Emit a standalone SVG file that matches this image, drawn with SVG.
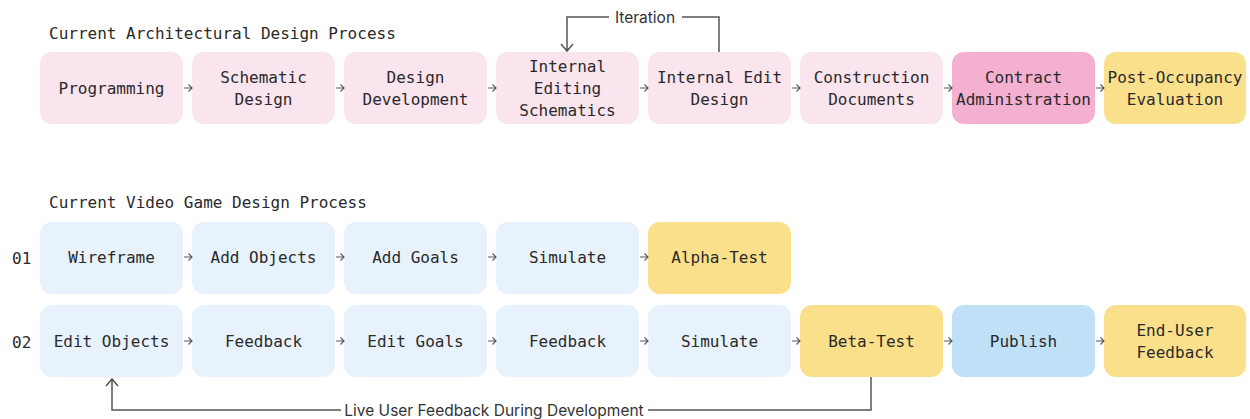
<svg xmlns="http://www.w3.org/2000/svg" width="1250" height="419" viewBox="0 0 1250 419">
<defs>
<style>
.bx{stroke:none}
.pk{fill:#fae4ed}
.mg{fill:#f3b0d0}
.yl{fill:#fae08a}
.lb{fill:#e7f2fc}
.bl{fill:#bfe0f7}
.t{font-family:"DejaVu Sans Mono","Liberation Mono",monospace;font-size:16px;fill:#2a2a2a;text-anchor:middle;dominant-baseline:central}
.h{font-family:"DejaVu Sans Mono","Liberation Mono",monospace;font-size:16px;fill:#2a2a2a;dominant-baseline:central}
.s{font-family:"Inter","Noto Sans",sans-serif;font-size:15.5px;fill:#333;text-anchor:middle;dominant-baseline:central}
.a{fill:none;stroke:#555;stroke-width:1.1}
.c{fill:none;stroke:#555;stroke-width:1.5}
</style>
<path id="ar" class="a" d="M-4,0 H4 M0.5,-3.5 L4,0 L0.5,3.5"/>
</defs>
<text class="h" x="49" y="33">Current Architectural Design Process</text>
<text class="h" x="49" y="202">Current Video Game Design Process</text>
<text class="h" x="12" y="258">01</text>
<text class="h" x="12" y="342">02</text>

<g id="a1"><rect class="bx pk" x="40" y="52" width="143" height="72" rx="12"/><text class="t" x="111.5" y="88">Programming</text></g>
<g id="a2"><rect class="bx pk" x="192" y="52" width="143" height="72" rx="12"/><text class="t" x="263.5" y="77">Schematic</text><text class="t" x="263.5" y="99">Design</text></g>
<g id="a3"><rect class="bx pk" x="344" y="52" width="143" height="72" rx="12"/><text class="t" x="415.5" y="77">Design</text><text class="t" x="415.5" y="99">Development</text></g>
<g id="a4"><rect class="bx pk" x="496" y="52" width="143" height="72" rx="12"/><text class="t" x="567.5" y="66">Internal</text><text class="t" x="567.5" y="88">Editing</text><text class="t" x="567.5" y="110">Schematics</text></g>
<g id="a5"><rect class="bx pk" x="648" y="52" width="143" height="72" rx="12"/><text class="t" x="719.5" y="77">Internal Edit</text><text class="t" x="719.5" y="99">Design</text></g>
<g id="a6"><rect class="bx pk" x="800" y="52" width="143" height="72" rx="12"/><text class="t" x="871.5" y="77">Construction</text><text class="t" x="871.5" y="99">Documents</text></g>
<g id="a7"><rect class="bx mg" x="952" y="52" width="143" height="72" rx="12"/><text class="t" x="1023.5" y="77">Contract</text><text class="t" x="1023.5" y="99">Administration</text></g>
<g id="a8"><rect class="bx yl" x="1104" y="52" width="142" height="72" rx="12"/><text class="t" x="1175" y="77">Post-Occupancy</text><text class="t" x="1175" y="99">Evaluation</text></g>

<g id="v1"><rect class="bx lb" x="40" y="222" width="143" height="72" rx="12"/><text class="t" x="111.5" y="257">Wireframe</text></g>
<g id="v2"><rect class="bx lb" x="192" y="222" width="143" height="72" rx="12"/><text class="t" x="263.5" y="257">Add Objects</text></g>
<g id="v3"><rect class="bx lb" x="344" y="222" width="143" height="72" rx="12"/><text class="t" x="415.5" y="257">Add Goals</text></g>
<g id="v4"><rect class="bx lb" x="496" y="222" width="143" height="72" rx="12"/><text class="t" x="567.5" y="257">Simulate</text></g>
<g id="v5"><rect class="bx yl" x="648" y="222" width="143" height="72" rx="12"/><text class="t" x="719.5" y="257">Alpha-Test</text></g>

<g id="w1"><rect class="bx lb" x="40" y="305" width="143" height="72" rx="12"/><text class="t" x="111.5" y="341">Edit Objects</text></g>
<g id="w2"><rect class="bx lb" x="192" y="305" width="143" height="72" rx="12"/><text class="t" x="263.5" y="341">Feedback</text></g>
<g id="w3"><rect class="bx lb" x="344" y="305" width="143" height="72" rx="12"/><text class="t" x="415.5" y="341">Edit Goals</text></g>
<g id="w4"><rect class="bx lb" x="496" y="305" width="143" height="72" rx="12"/><text class="t" x="567.5" y="341">Feedback</text></g>
<g id="w5"><rect class="bx lb" x="648" y="305" width="143" height="72" rx="12"/><text class="t" x="719.5" y="341">Simulate</text></g>
<g id="w6"><rect class="bx yl" x="800" y="305" width="143" height="72" rx="12"/><text class="t" x="871.5" y="341">Beta-Test</text></g>
<g id="w7"><rect class="bx bl" x="952" y="305" width="143" height="72" rx="12"/><text class="t" x="1023.5" y="341">Publish</text></g>
<g id="w8"><rect class="bx yl" x="1104" y="305" width="142" height="72" rx="12"/><text class="t" x="1175" y="330">End-User</text><text class="t" x="1175" y="352">Feedback</text></g>

<g id="connectors">
<use href="#ar" x="188" y="88"/><use href="#ar" x="340" y="88"/><use href="#ar" x="492" y="88"/><use href="#ar" x="644" y="88"/><use href="#ar" x="796" y="88"/><use href="#ar" x="948" y="88"/><use href="#ar" x="1100" y="88"/>
<use href="#ar" x="188" y="257"/><use href="#ar" x="340" y="257"/><use href="#ar" x="492" y="257"/><use href="#ar" x="644" y="257"/>
<use href="#ar" x="188" y="341"/><use href="#ar" x="340" y="341"/><use href="#ar" x="492" y="341"/><use href="#ar" x="644" y="341"/><use href="#ar" x="796" y="341"/><use href="#ar" x="948" y="341"/><use href="#ar" x="1100" y="341"/>
<path class="c" d="M719,52 V17 H682 M609,17 H567 V51 M561,44 L567,51 L573,44"/>
<text class="s" x="645" y="17">Iteration</text>
<path class="c" d="M871,377 V410 H648 M341,410 H112 V379 M106,386 L112,379 L118,386"/>
<text class="s" x="494" y="410">Live User Feedback During Development</text>
</g>
</svg>
